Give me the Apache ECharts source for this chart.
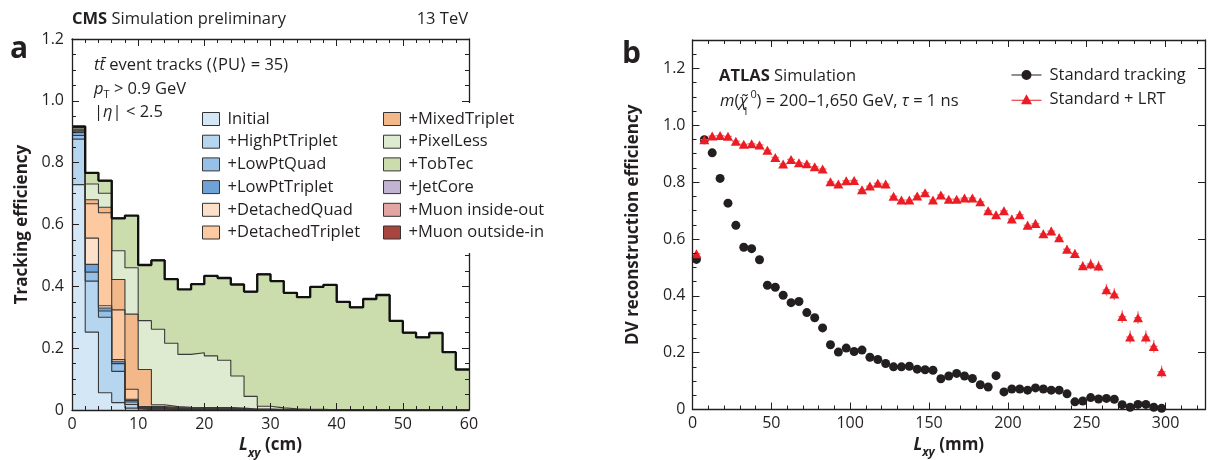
<!DOCTYPE html>
<html>
<head>
<meta charset="utf-8">
<script src="https://cdn.jsdelivr.net/npm/echarts@6/dist/echarts.min.js"></script>
<style>
  html, body { margin: 0; padding: 0; background: #ffffff; }
  #chart { width: 1208px; height: 460px; }
</style>
</head>
<body>
<div id="chart"></div>
<script>
const FONT = '"Open Sans", "Noto Sans", "DejaVu Sans", sans-serif';
const INK = '#231f20';

// ---------- Panel a: tracking efficiency vs Lxy, stacked by iteration ----------
const binEdgesCm = [0, 2, 4, 6, 8, 10, 12, 14, 16, 18, 20, 22, 24, 26, 28, 30,
  32, 34, 36, 38, 40, 42, 44, 46, 48, 50, 52, 54, 56, 58, 60];

const layerNames = ['Initial', '+HighPtTriplet', '+LowPtQuad', '+LowPtTriplet',
  '+DetachedQuad', '+DetachedTriplet', '+MixedTriplet', '+PixelLess', '+TobTec',
  '+JetCore', '+Muon inside-out', '+Muon outside-in'];

const layerColors = ['#d3e7f6', '#b6d5ef', '#97c0e8', '#6fa3d8', '#fde0ca', '#fdc9a1',
  '#f3b88a', '#dfebd0', '#cbdcad', '#c3b3d3', '#e2a5a3', '#a8453f'];

const initial = [0.729, 0.252, 0.056, 0.024, 0.006, 0.001, 0.001, 0.001, 0.001, 0,
  0, 0, 0, 0, 0, 0, 0, 0, 0, 0, 0, 0, 0, 0, 0, 0, 0, 0, 0, 0];
const highPtTriplet = [0.147, 0.165, 0.244, 0.101, 0.012, 0.002, 0.002, 0.001, 0.001, 0.001,
  0.001, 0.001, 0.001, 0, 0, 0, 0, 0, 0, 0, 0, 0, 0, 0, 0, 0, 0, 0, 0, 0];
const lowPtQuad = [0.012, 0.029, 0.020, 0.025, 0.008, 0.002, 0.002, 0.001, 0.001, 0.001,
  0.001, 0.001, 0, 0, 0, 0, 0, 0, 0, 0, 0, 0, 0, 0, 0, 0, 0, 0, 0, 0];
const lowPtTriplet = [0.010, 0.025, 0.010, 0.006, 0.005, 0.002, 0.002, 0.002, 0.001, 0.001,
  0.001, 0.001, 0.001, 0, 0, 0, 0, 0, 0, 0, 0, 0, 0, 0, 0, 0, 0, 0, 0, 0];
const detachedQuad = [0.004, 0.085, 0.007, 0.007, 0.004, 0.001, 0.001, 0.001, 0.001, 0.001,
  0.001, 0.001, 0.001, 0.001, 0.001, 0, 0, 0, 0, 0, 0, 0, 0, 0, 0, 0, 0, 0, 0, 0];
const detachedTriplet = [0.003, 0.111, 0.301, 0.161, 0.032, 0.003, 0.003, 0.002, 0.002, 0.002,
  0.002, 0.002, 0.001, 0.001, 0.001, 0.001, 0, 0, 0, 0, 0, 0, 0, 0, 0, 0, 0, 0, 0, 0];
const mixedTriplet = [0.003, 0.013, 0.018, 0.098, 0.243, 0.120, 0.006, 0.003, 0.002, 0.002,
  0.002, 0.002, 0.002, 0.001, 0.001, 0.001, 0.001, 0, 0, 0, 0, 0, 0, 0, 0, 0, 0, 0, 0, 0];
const pixelLess = [0.004, 0.051, 0.045, 0.093, 0.150, 0.158, 0.244, 0.205, 0.171, 0.177,
  0.167, 0.153, 0.104, 0.041, 0.009, 0.005, 0.003, 0.002, 0.002, 0.001,
  0.001, 0, 0, 0, 0, 0, 0, 0, 0, 0];
const tobTec = [0.002, 0.036, 0.041, 0.105, 0.169, 0.180, 0.223, 0.207, 0.210, 0.222,
  0.259, 0.266, 0.296, 0.339, 0.427, 0.410, 0.375, 0.363, 0.396, 0.404,
  0.349, 0.332, 0.359, 0.372, 0.288, 0.250, 0.235, 0.249, 0.187, 0.131];
const jetCore = [0.001, 0, 0, 0, 0, 0, 0, 0, 0, 0, 0, 0, 0, 0, 0, 0, 0, 0, 0, 0,
  0, 0, 0, 0, 0, 0, 0, 0, 0, 0];
const muonInsideOut = [0.001, 0, 0, 0, 0, 0, 0, 0, 0, 0, 0, 0, 0, 0, 0, 0, 0, 0, 0, 0,
  0, 0, 0, 0, 0, 0, 0, 0, 0, 0];
const muonOutsideIn = [0.001, 0, 0, 0, 0, 0, 0, 0, 0, 0, 0, 0, 0, 0, 0, 0, 0, 0, 0, 0,
  0, 0, 0, 0, 0, 0, 0, 0, 0, 0];

const layers = [initial, highPtTriplet, lowPtQuad, lowPtTriplet, detachedQuad,
  detachedTriplet, mixedTriplet, pixelLess, tobTec, jetCore, muonInsideOut, muonOutsideIn];

// ---------- Panel b: DV reconstruction efficiency vs Lxy ----------
const lxyMm = [2.5, 7.5, 12.5, 17.5, 22.5, 27.5, 32.5, 37.5, 42.5, 47.5,
  52.5, 57.5, 62.5, 67.5, 72.5, 77.5, 82.5, 87.5, 92.5, 97.5,
  102.5, 107.5, 112.5, 117.5, 122.5, 127.5, 132.5, 137.5, 142.5, 147.5,
  152.5, 157.5, 162.5, 167.5, 172.5, 177.5, 182.5, 187.5, 192.5, 197.5,
  202.5, 207.5, 212.5, 217.5, 222.5, 227.5, 232.5, 237.5, 242.5, 247.5,
  252.5, 257.5, 262.5, 267.5, 272.5, 277.5, 282.5, 287.5, 292.5, 297.5];

const effStandard = [0.528, 0.949, 0.903, 0.813, 0.726, 0.648, 0.571, 0.566, 0.527, 0.437,
  0.430, 0.402, 0.376, 0.380, 0.341, 0.323, 0.287, 0.228, 0.202, 0.216,
  0.204, 0.209, 0.184, 0.176, 0.162, 0.150, 0.150, 0.152, 0.142, 0.140,
  0.138, 0.108, 0.118, 0.127, 0.118, 0.109, 0.087, 0.079, 0.119, 0.062,
  0.072, 0.072, 0.068, 0.076, 0.072, 0.068, 0.068, 0.055, 0.027, 0.030,
  0.042, 0.037, 0.039, 0.036, 0.017, 0.008, 0.018, 0.018, 0.008, 0.004];

const effLrt = [0.548, 0.949, 0.962, 0.964, 0.961, 0.944, 0.933, 0.935, 0.931, 0.912,
  0.887, 0.864, 0.880, 0.868, 0.865, 0.854, 0.846, 0.801, 0.793, 0.805,
  0.806, 0.773, 0.786, 0.796, 0.793, 0.750, 0.737, 0.737, 0.751, 0.763,
  0.737, 0.755, 0.740, 0.740, 0.744, 0.744, 0.731, 0.699, 0.685, 0.699,
  0.670, 0.685, 0.648, 0.654, 0.618, 0.628, 0.604, 0.564, 0.549, 0.506,
  0.512, 0.505, 0.421, 0.406, 0.327, 0.255, 0.323, 0.255, 0.222, 0.133];

const errLrt = [0.005, 0.005, 0.005, 0.005, 0.005, 0.005, 0.005, 0.005, 0.005, 0.005,
  0.005, 0.005, 0.005, 0.005, 0.005, 0.005, 0.005, 0.005, 0.005, 0.005,
  0.007, 0.007, 0.007, 0.007, 0.007, 0.007, 0.007, 0.007, 0.007, 0.007,
  0.007, 0.007, 0.007, 0.007, 0.007, 0.007, 0.007, 0.007, 0.007, 0.007,
  0.011, 0.011, 0.011, 0.011, 0.011, 0.011, 0.011, 0.011, 0.011, 0.011,
  0.015, 0.015, 0.017, 0.017, 0.019, 0.019, 0.019, 0.019, 0.019, 0.018];

const halfBinMm = 2.5;

// ---------- helpers ----------
const fmtEff = v => (v === 0 ? '0' : v.toFixed(1));

// step points: one per bin edge, last value repeated at the closing edge
function stepPoints(values) {
  return binEdgesCm.map((x, i) => [x, values[Math.min(i, values.length - 1)]]);
}
// running sums of the layers, bin by bin (top of each stacked layer)
const cumulative = [];
layers.forEach((vals, k) => {
  cumulative.push(vals.map((v, i) => v + (k > 0 ? cumulative[k - 1][i] : 0)));
});

function tok(size, extra) {
  return Object.assign({ fontFamily: FONT, fontSize: size, fontWeight: 'normal',
    fontStyle: 'normal', fill: INK, color: INK }, extra || {});
}
function label(x, y, text, size, extra, rich) {
  return { type: 'text', x: x, y: y, silent: true, z: 50,
    style: Object.assign({ text: text, fontFamily: FONT, fontSize: size, fill: INK,
      align: 'left', verticalAlign: 'middle', rich: rich || {} }, extra || {}) };
}

const axisLineStyle = { color: INK, width: 1.3 };
const tickStyle = { color: INK, width: 1 };
const labelStyle = { fontFamily: FONT, fontSize: 16, color: INK };
const axisNameRich = {
  l: tok(17, { fontWeight: 'bold', fontStyle: 'italic', lineHeight: 28 }),
  s: tok(12, { fontWeight: 'bold', fontStyle: 'italic', lineHeight: 12, verticalAlign: 'bottom' }),
  n: tok(17, { fontWeight: 'bold', lineHeight: 28 })
};

// ---------- series ----------
const series = [];
// filled layers, painted from the highest running sum down to the lowest
for (let k = layers.length - 1; k >= 0; k--) {
  series.push({
    name: layerNames[k], type: 'line', step: 'end',
    xAxisIndex: 0, yAxisIndex: 0, z: 2, silent: true, animation: false,
    symbol: 'none', showSymbol: false,
    itemStyle: { color: layerColors[k] },
    lineStyle: { width: 0, opacity: 0 },
    areaStyle: { color: layerColors[k], opacity: 1 },
    emphasis: { disabled: true },
    data: stepPoints(cumulative[k])
  });
}
// thin boundary of every layer
cumulative.forEach((vals, k) => {
  series.push({
    name: layerNames[k] + ' edge', type: 'line', step: 'end',
    xAxisIndex: 0, yAxisIndex: 0, z: 3, silent: true, animation: false,
    symbol: 'none', showSymbol: false,
    lineStyle: { width: 1.1, color: '#3a3a3a' },
    emphasis: { disabled: true },
    data: stepPoints(vals)
  });
});
// heavy outline of the summed efficiency
series.push({
  name: 'total', type: 'line', step: 'end', xAxisIndex: 0, yAxisIndex: 0, z: 4,
  silent: true, animation: false, symbol: 'none', showSymbol: false,
  lineStyle: { width: 2.3, color: '#111111' }, emphasis: { disabled: true },
  data: stepPoints(cumulative[cumulative.length - 1])
});

series.push({
  name: 'Standard tracking', type: 'scatter', xAxisIndex: 2, yAxisIndex: 2, z: 3,
  animation: false, symbol: 'circle', symbolSize: 9,
  itemStyle: { color: INK, opacity: 1 },
  data: lxyMm.map((x, i) => [x, effStandard[i]])
});
series.push({
  name: 'LRT errors', type: 'custom', xAxisIndex: 2, yAxisIndex: 2, z: 4,
  animation: false, silent: true,
  renderItem: function (params, api) {
    const x = api.value(0), y = api.value(1), e = api.value(2);
    const l = api.coord([x - halfBinMm, y]), r = api.coord([x + halfBinMm, y]);
    const t = api.coord([x, y + e]), b = api.coord([x, y - e]);
    const st = { stroke: '#f27b80', lineWidth: 1.3 };
    return { type: 'group', children: [
      { type: 'line', shape: { x1: l[0], y1: l[1], x2: r[0], y2: r[1] }, style: st },
      { type: 'line', shape: { x1: t[0], y1: t[1] - 1, x2: b[0], y2: b[1] + 1 }, style: st }
    ] };
  },
  data: lxyMm.map((x, i) => [x, effLrt[i], errLrt[i]])
});
series.push({
  name: 'Standard + LRT', type: 'scatter', xAxisIndex: 2, yAxisIndex: 2, z: 5,
  animation: false, symbol: 'triangle', symbolSize: [10, 9],
  itemStyle: { color: '#ec1c24', opacity: 1 },
  data: lxyMm.map((x, i) => [x, effLrt[i]])
});

// ---------- axes ----------
function valueAxis(o) {
  return Object.assign({
    type: 'value', z: 10, splitLine: { show: false }, minorSplitLine: { show: false },
    axisLine: { show: true, onZero: false, lineStyle: axisLineStyle },
    axisTick: { show: true, inside: true, length: 7, lineStyle: tickStyle },
    axisLabel: { show: false }
  }, o);
}

const xAxes = [
  valueAxis({ gridIndex: 0, position: 'bottom', min: 0, max: 60, interval: 10,
    minorTick: { show: true, splitNumber: 5, length: 4, lineStyle: tickStyle },
    axisLabel: Object.assign({ show: true, margin: 6 }, labelStyle),
    name: '{l|L}{s|xy}{n| (cm)}', nameLocation: 'middle', nameGap: 18,
    nameTextStyle: { rich: axisNameRich } }),
  valueAxis({ gridIndex: 0, position: 'top', min: 0, max: 60, interval: 10,
    minorTick: { show: true, splitNumber: 5, length: 4, lineStyle: tickStyle } }),
  valueAxis({ gridIndex: 1, position: 'bottom', min: 0, max: 325, interval: 50,
    axisLabel: Object.assign({ show: true, margin: 6, showMaxLabel: false }, labelStyle),
    name: '{l|L}{s|xy}{n| (mm)}', nameLocation: 'middle', nameGap: 18,
    nameTextStyle: { rich: axisNameRich } }),
  valueAxis({ gridIndex: 1, position: 'top', min: 0, max: 325, interval: 50 }),
  valueAxis({ gridIndex: 2, position: 'bottom', min: 0, max: 325, interval: 10,
    axisLine: { show: false }, axisTick: { show: true, inside: true, length: 4, lineStyle: tickStyle } }),
  valueAxis({ gridIndex: 2, position: 'top', min: 0, max: 325, interval: 10,
    axisLine: { show: false }, axisTick: { show: true, inside: true, length: 4, lineStyle: tickStyle } })
];

const yAxes = [
  valueAxis({ gridIndex: 0, position: 'left', min: 0, max: 1.2, interval: 0.2,
    minorTick: { show: true, splitNumber: 4, length: 4, lineStyle: tickStyle },
    axisLabel: Object.assign({ show: true, margin: 8, formatter: fmtEff }, labelStyle),
    name: 'Tracking efficiency', nameLocation: 'middle', nameGap: 41,
    nameTextStyle: { fontFamily: FONT, fontSize: 17, fontWeight: 'bold', color: INK } }),
  valueAxis({ gridIndex: 0, position: 'right', min: 0, max: 1.2, interval: 0.2,
    minorTick: { show: true, splitNumber: 4, length: 4, lineStyle: tickStyle } }),
  valueAxis({ gridIndex: 1, position: 'left', min: 0, max: 1.3, interval: 0.2,
    axisLabel: Object.assign({ show: true, margin: 7, formatter: fmtEff, showMaxLabel: false }, labelStyle),
    name: 'DV reconstruction efficiency', nameLocation: 'middle', nameGap: 51,
    nameTextStyle: { fontFamily: FONT, fontSize: 17, fontWeight: 'bold', color: INK } }),
  valueAxis({ gridIndex: 1, position: 'right', min: 0, max: 1.3, interval: 0.2 }),
  valueAxis({ gridIndex: 2, position: 'left', min: 0, max: 1.3, interval: 0.05,
    axisLine: { show: false }, axisTick: { show: true, inside: true, length: 4, lineStyle: tickStyle } })
];

// ---------- legends ----------
const legendText = { fontFamily: FONT, fontSize: 16.5, color: INK, lineHeight: 17, padding: [0, 0, 0, 3] };
function boxLegend(names, left, top, pad, bg) {
  return {
    data: names.map(n => ({ name: n, icon: 'rect' })),
    orient: 'vertical', left: left, top: top, padding: pad, z: 20,
    backgroundColor: bg,
    itemWidth: 17, itemHeight: 13, itemGap: 5.7, selectedMode: false,
    itemStyle: { borderColor: '#333333', borderWidth: 1 },
    textStyle: legendText
  };
}
const iconDot = 'path://M0,4.4L30,4.4L30,5.6L0,5.6Z M10,5A5,5,0,1,1,20,5A5,5,0,1,1,10,5Z';
const iconTri = 'path://M0,5.5L30,5.5L30,6.5L0,6.5Z M15,0L20.5,10L9.5,10Z';

const option = {
  backgroundColor: '#ffffff',
  animation: false,
  grid: [
    { left: 72, top: 39, width: 397, height: 371, outerBoundsMode: 'none', containLabel: false },
    { left: 692.5, top: 40, width: 512.5, height: 369.5, outerBoundsMode: 'none', containLabel: false },
    { left: 692.5, top: 40, width: 512.5, height: 369.5, outerBoundsMode: 'none', containLabel: false }
  ],
  xAxis: xAxes,
  yAxis: yAxes,
  legend: [
    boxLegend(layerNames.slice(0, 6), 202, 110.5, 0, 'transparent'),
    // second column sits on a white box that breaks the right frame of panel a
    boxLegend(layerNames.slice(6), 383, 103, [7.5, 8, 12, 0], '#ffffff'),
    {
      data: [{ name: 'Standard tracking', icon: iconDot }, { name: 'Standard + LRT', icon: iconTri }],
      orient: 'vertical', left: 1011.5, top: 65, padding: 0, z: 20,
      itemWidth: 30, itemHeight: 10, itemGap: 4.3, selectedMode: false,
      textStyle: { fontFamily: FONT, fontSize: 16.5, color: INK, lineHeight: 20, padding: [0, 0, 0, 3] }
    }
  ],
  series: series,
  graphic: [
    label(72, 19, '{b|CMS} Simulation preliminary', 16.5, null, { b: tok(16.5, { fontWeight: 'bold' }) }),
    label(468, 19, '13 TeV', 16.5, { align: 'right' }),
    label(10, 49.5, 'a', 30, { fontWeight: 'bold' }),
    label(94, 65, '{i|tt\u0304} event tracks (\u27E8PU\u27E9 = 35)', 16.5, null,
      { i: tok(16.5, { fontStyle: 'italic' }) }),
    label(94, 89, '{i|p}{s|T}{n| > 0.9 GeV}', 16.5, null, {
      i: tok(16.5, { fontStyle: 'italic', lineHeight: 22 }),
      s: tok(11, { lineHeight: 11, verticalAlign: 'bottom' }),
      n: tok(16.5, { lineHeight: 22 }) }),
    label(94, 112, '|{i|\u03B7}| < 2.5', 16.5, null, { i: tok(16.5, { fontStyle: 'italic' }) }),
    label(622, 54.5, 'b', 30, { fontWeight: 'bold' }),
    label(719, 76.5, '{b|ATLAS} Simulation', 16.5, null, { b: tok(16.5, { fontWeight: 'bold' }) }),
    label(720, 101, '{i|m}({i|\u03C7\u0303}', 16.5, null, { i: tok(16.5, { fontStyle: 'italic' }) }),
    label(750.5, 95, '0', 11),
    label(742.5, 112, '1', 11),
    label(756.5, 101, ') = 200\u20131,650 GeV, {i|\u03C4} = 1 ns', 16.5, null,
      { i: tok(16.5, { fontStyle: 'italic' }) })
  ]
};

const chart = echarts.init(document.getElementById('chart'), null, { renderer: 'canvas' });
chart.setOption(option);
</script>
</body>
</html>
